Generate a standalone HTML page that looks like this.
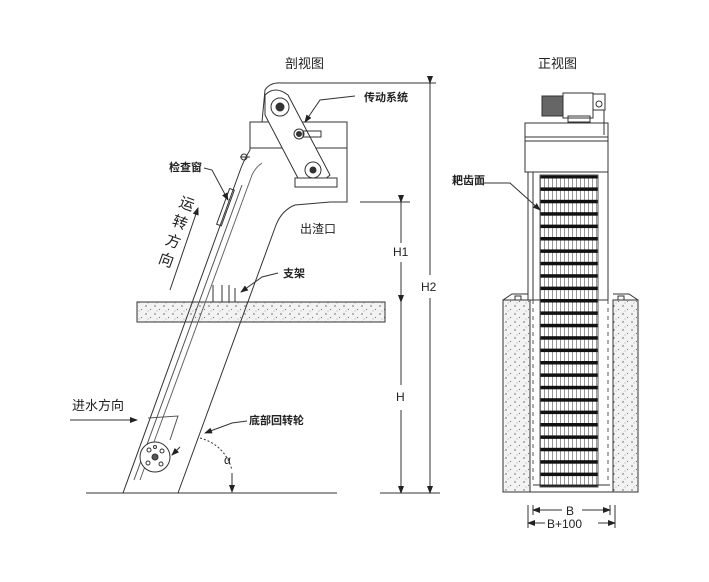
<!DOCTYPE html>
<html><head><meta charset="utf-8"><style>
html,body{margin:0;padding:0;background:#fff}
svg{display:block}
text{font-family:"Liberation Sans","Noto Sans CJK SC",sans-serif;fill:#222}
</style></head><body>
<svg width="709" height="582" viewBox="0 0 709 582" xmlns="http://www.w3.org/2000/svg">
<defs>
<pattern id="dots" width="9" height="8" patternUnits="userSpaceOnUse">
<rect width="9" height="8" fill="#f3f3f3"/>
<circle cx="2" cy="2" r="0.7" fill="#555"/><circle cx="6.5" cy="5.5" r="0.6" fill="#777"/><circle cx="4" cy="7" r="0.4" fill="#444"/>
</pattern>
<pattern id="grid" width="4" height="12.4" patternUnits="userSpaceOnUse" y="175">
<rect width="4" height="12.4" fill="#fff"/><rect x="0" width="1" height="12.4" fill="#999"/><rect y="0" width="4" height="3.5" fill="#111"/>
</pattern>
<marker id="ar" markerWidth="8" markerHeight="6" refX="7" refY="3" orient="auto"><path d="M0,0 L8,3 L0,6 Z" fill="#222"/></marker>
</defs>
<g stroke="#333" fill="none" stroke-width="1">
<text x="285" y="68" font-size="13" stroke="none">剖视图</text>
<rect x="137" y="302" width="248" height="20" fill="url(#dots)"/>
<line x1="86" y1="493" x2="337" y2="493"/>
<line x1="380" y1="493" x2="440" y2="493"/>
<path d="M250,150 L250,122 L262,122 L265,90 Q270,82 282,83 L425,83"/>
<path d="M262,122 L347,122 L347,202 L330,202"/>
<line x1="250" y1="148" x2="347" y2="148"/>
<path d="M250,150 Q245,158 241,168 L123,493"/>
<path d="M330,202 L295,205 Q282,210 276,225 L178,493"/>
<path d="M262,163 Q255,168 252,175 L140,480" stroke="#666"/>
<path d="M242,185 L134,480" stroke="#555"/>
<path d="M265,95 Q275,85 288,95 L330,175 L318,185 L300,182 L265,115 Z" fill="#fff"/>
<circle cx="280" cy="107" r="9" fill="#fff"/><circle cx="280" cy="107" r="4" fill="#333"/>
<circle cx="299" cy="134" r="5" fill="#fff"/><circle cx="299" cy="134" r="2.5" fill="#333"/>
<rect x="303" y="131" width="18" height="6"/>
<circle cx="313" cy="170" r="8" fill="#fff"/><circle cx="313" cy="170" r="3" fill="#333"/>
<rect x="295" y="178" width="42" height="9" fill="#fff"/>
<line x1="240" y1="157" x2="250" y2="157"/><circle cx="244" cy="157" r="3"/>
<rect x="223" y="188" width="5" height="38" transform="rotate(20 225 207)"/>
<path d="M213,302 V285 M222,302 V285 M229,302 V285 M235,302 V288"/>
<circle cx="155" cy="457" r="15" fill="#fff"/>
<circle cx="155" cy="457" r="3" fill="#555"/>
<circle cx="149" cy="450" r="2"/><circle cx="162" cy="451" r="2"/><circle cx="148" cy="463" r="2"/><circle cx="161" cy="464" r="2"/><circle cx="155" cy="447" r="1.5"/>
<path d="M148,418 L178,416 L170,440" stroke="#555"/>
<line x1="360" y1="202" x2="410" y2="202"/>
<line x1="401" y1="202" x2="401" y2="243" marker-start="url(#ar)"/>
<line x1="401" y1="262" x2="401" y2="302" marker-end="url(#ar)"/>
<line x1="401" y1="302" x2="401" y2="385"/>
<line x1="401" y1="410" x2="401" y2="493" marker-end="url(#ar)"/>
<line x1="425" y1="83" x2="436" y2="83"/>
<line x1="430" y1="83" x2="430" y2="275" marker-start="url(#ar)"/>
<line x1="430" y1="298" x2="430" y2="493" marker-end="url(#ar)"/>
<line x1="232" y1="473" x2="232" y2="492" marker-end="url(#ar)"/>
<path d="M200,438 Q225,445 232,470" stroke-dasharray="2,2"/>
<path d="M355,96 L320,100 L305,122" marker-end="url(#ar)"/>
<path d="M204,168 L212,170 L228,200" marker-end="url(#ar)"/>
<path d="M278,273 L262,277 L241,292" marker-end="url(#ar)"/>
<path d="M247,421 L232,423 L205,433" marker-end="url(#ar)"/>
<path d="M180,447 L172,455" marker-end="url(#ar)"/>
<line x1="70" y1="420" x2="137" y2="420" marker-end="url(#ar)"/>
<line x1="170" y1="290" x2="198" y2="208" marker-end="url(#ar)"/>
</g>
<g stroke="none">
<text x="364" y="101" font-size="11" font-weight="bold">传动系统</text>
<text x="169" y="171" font-size="11" font-weight="bold">检查窗</text>
<text x="300" y="233" font-size="12">出渣口</text>
<text x="283" y="277" font-size="11" font-weight="bold">支架</text>
<text x="249" y="424" font-size="11" font-weight="bold">底部回转轮</text>
<text x="72" y="410" font-size="13">进水方向</text>
<text x="393" y="256" font-size="12" font-family="Liberation Serif">H1</text>
<text x="396" y="401" font-size="12" font-family="Liberation Serif">H</text>
<text x="421" y="291" font-size="12" font-family="Liberation Serif">H2</text>
<text x="224" y="464" font-size="12" font-family="Liberation Serif">α</text>
<g transform="translate(178,206) rotate(20)" font-size="15">
<text x="0" y="0">运</text><text x="0" y="20">转</text><text x="0" y="40">方</text><text x="0" y="60">向</text>
</g>
<text x="538" y="68" font-size="13">正视图</text>
<text x="452" y="184" font-size="11" font-weight="bold">耙齿面</text>
</g>
<g stroke="#333" fill="none" stroke-width="1">
<rect x="503" y="300" width="27" height="192" fill="url(#dots)"/>
<rect x="613" y="300" width="25" height="192" fill="url(#dots)"/>
<path d="M530,300 V492 H613 V300"/>
<rect x="528" y="172" width="80" height="128" fill="#fff"/>
<line x1="533" y1="172" x2="533" y2="300"/>
<rect x="540" y="175" width="58" height="312" fill="url(#grid)" stroke="#555"/>
<line x1="533" y1="485" x2="610" y2="485"/>
<path d="M533,300 V483 M608,300 V483" stroke-dasharray="4,4" stroke="#555"/>
<rect x="525" y="123" width="83" height="49" fill="#fff"/>
<line x1="525" y1="137" x2="608" y2="137"/>
<line x1="525" y1="141" x2="608" y2="141"/>
<rect x="542" y="96" width="22" height="20" fill="#666"/>
<rect x="563" y="93" width="30" height="25" fill="#fff"/>
<rect x="593" y="94" width="12" height="16" fill="#fff"/>
<circle cx="599" cy="104" r="3"/>
<line x1="604" y1="110" x2="604" y2="135"/>
<rect x="568" y="116" width="22" height="6"/>
<path d="M503,300 L512,294 H528 M638,300 L629,294 H613"/>
<rect x="515" y="296" width="6" height="4"/><rect x="618" y="296" width="6" height="4"/>
<path d="M483,183 L510,183 L540,210" marker-end="url(#ar)"/>
<line x1="528" y1="505" x2="528" y2="528"/><line x1="533" y1="505" x2="533" y2="515"/>
<line x1="610" y1="505" x2="610" y2="515"/><line x1="615" y1="505" x2="615" y2="528"/>
<line x1="562" y1="510" x2="533" y2="510" marker-end="url(#ar)"/>
<line x1="582" y1="510" x2="610" y2="510" marker-end="url(#ar)"/>
<line x1="545" y1="523" x2="528" y2="523" marker-end="url(#ar)"/>
<line x1="598" y1="523" x2="615" y2="523" marker-end="url(#ar)"/>
</g>
<text x="566" y="515" font-size="12" font-family="Liberation Serif">B</text>
<text x="547" y="528" font-size="12" font-family="Liberation Serif">B+100</text>
</svg>
</body></html>
